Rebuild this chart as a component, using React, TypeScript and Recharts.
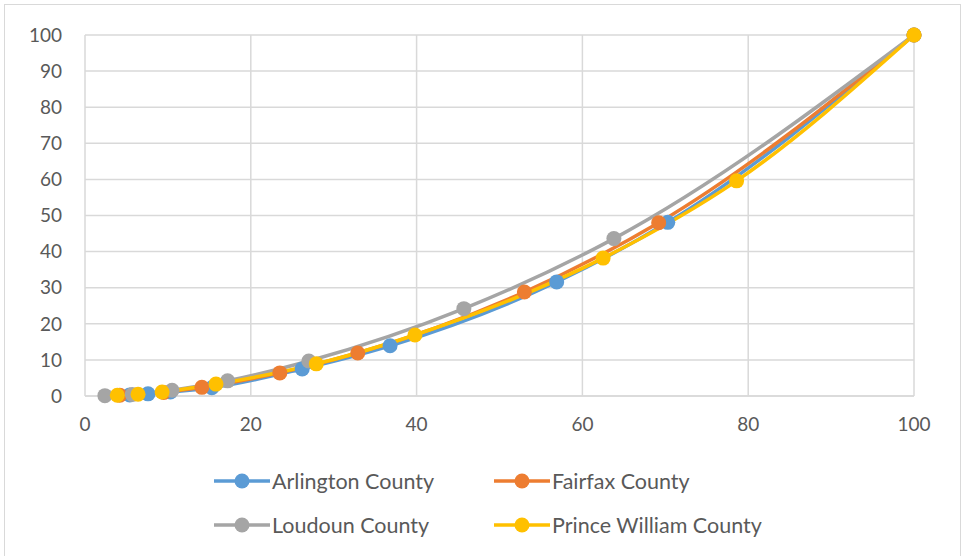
import { LineChart, Line, XAxis, YAxis, CartesianGrid } from 'recharts';

const xTicks = [0, 20, 40, 60, 80, 100];
const yTicks = [0, 10, 20, 30, 40, 50, 60, 70, 80, 90, 100];

const arlington = [
  { x: 5.4, y: 0.3 }, { x: 7.6, y: 0.6 }, { x: 10.3, y: 1.1 }, { x: 15.3, y: 2.3 },
  { x: 26.2, y: 7.5 }, { x: 36.8, y: 13.9 }, { x: 56.9, y: 31.6 }, { x: 70.3, y: 48.1 },
  { x: 100, y: 100 },
];
const fairfax = [
  { x: 4.2, y: 0.2 }, { x: 9.5, y: 1.0 }, { x: 14.1, y: 2.4 }, { x: 23.5, y: 6.4 },
  { x: 32.9, y: 11.9 }, { x: 53.0, y: 28.8 }, { x: 69.2, y: 48.0 }, { x: 100, y: 100 },
];
const loudoun = [
  { x: 2.4, y: 0.1 }, { x: 5.7, y: 0.4 }, { x: 10.5, y: 1.6 }, { x: 17.2, y: 4.2 },
  { x: 27.0, y: 9.7 }, { x: 45.7, y: 24.2 }, { x: 63.8, y: 43.6 }, { x: 100, y: 100 },
];
const princeWilliam = [
  { x: 3.9, y: 0.2 }, { x: 6.4, y: 0.5 }, { x: 9.3, y: 1.1 }, { x: 15.8, y: 3.3 },
  { x: 27.9, y: 8.9 }, { x: 39.8, y: 16.9 }, { x: 62.5, y: 38.2 }, { x: 78.6, y: 59.6 },
  { x: 100, y: 100 },
];

const series = [
  { name: 'Arlington County', color: '#5b9bd5', data: arlington },
  { name: 'Fairfax County', color: '#ed7d31', data: fairfax },
  { name: 'Loudoun County', color: '#a5a5a5', data: loudoun },
  { name: 'Prince William County', color: '#ffc000', data: princeWilliam },
];

const font = 'Lato, "Open Sans", sans-serif';
const tickStyle = { fill: '#595959', fontSize: 19, fontFamily: font };

function LegendItem({ name, color }: { name: string; color: string }) {
  return (
    <div style={{ display: 'flex', alignItems: 'center', width: 280, height: 44 }}>
      <svg width={56} height={18}>
        <line x1={0} y1={9} x2={56} y2={9} stroke={color} strokeWidth={3.5} />
        <circle cx={28} cy={9} r={7.5} fill={color} />
      </svg>
      <span style={{ marginLeft: 2, fontSize: 21.5, color: '#595959', fontFamily: font }}>{name}</span>
    </div>
  );
}

export default function App() {
  return (
    <div style={{ position: 'absolute', left: 0, top: 0, width: 962, height: 556, background: '#fff', overflow: 'hidden' }}>
      <div style={{ position: 'absolute', left: 4, top: 4, width: 955, height: 570, border: '1px solid #d9d9d9' }} />
      <LineChart
        width={962}
        height={556}
        margin={{ top: 35, right: 48, left: 0, bottom: 110 }}
      >
        <CartesianGrid stroke="#d9d9d9" strokeWidth={1.5} />
        <XAxis
          type="number"
          dataKey="x"
          domain={[0, 100]}
          ticks={xTicks}
          tick={tickStyle}
          tickLine={false}
          tickMargin={16}
          axisLine={{ stroke: '#d9d9d9', strokeWidth: 1.5 }}
          height={50}
          allowDuplicatedCategory={false}
        />
        <YAxis
          type="number"
          domain={[0, 100]}
          ticks={yTicks}
          tick={tickStyle}
          tickLine={false}
          tickMargin={17}
          axisLine={false}
          width={85}
          interval={0}
        />
        {series.map((s) => (
          <Line
            key={s.name}
            data={s.data}
            dataKey="y"
            name={s.name}
            type="monotone"
            stroke={s.color}
            strokeWidth={3.5}
            dot={{ r: 7.5, fill: s.color, stroke: s.color, strokeWidth: 0 }}
            isAnimationActive={false}
          />
        ))}
      </LineChart>
      <div style={{ position: 'absolute', left: 214, top: 459, display: 'flex', flexWrap: 'wrap', width: 600 }}>
        {series.map((s) => (
          <LegendItem key={s.name} name={s.name} color={s.color} />
        ))}
      </div>
    </div>
  );
}
